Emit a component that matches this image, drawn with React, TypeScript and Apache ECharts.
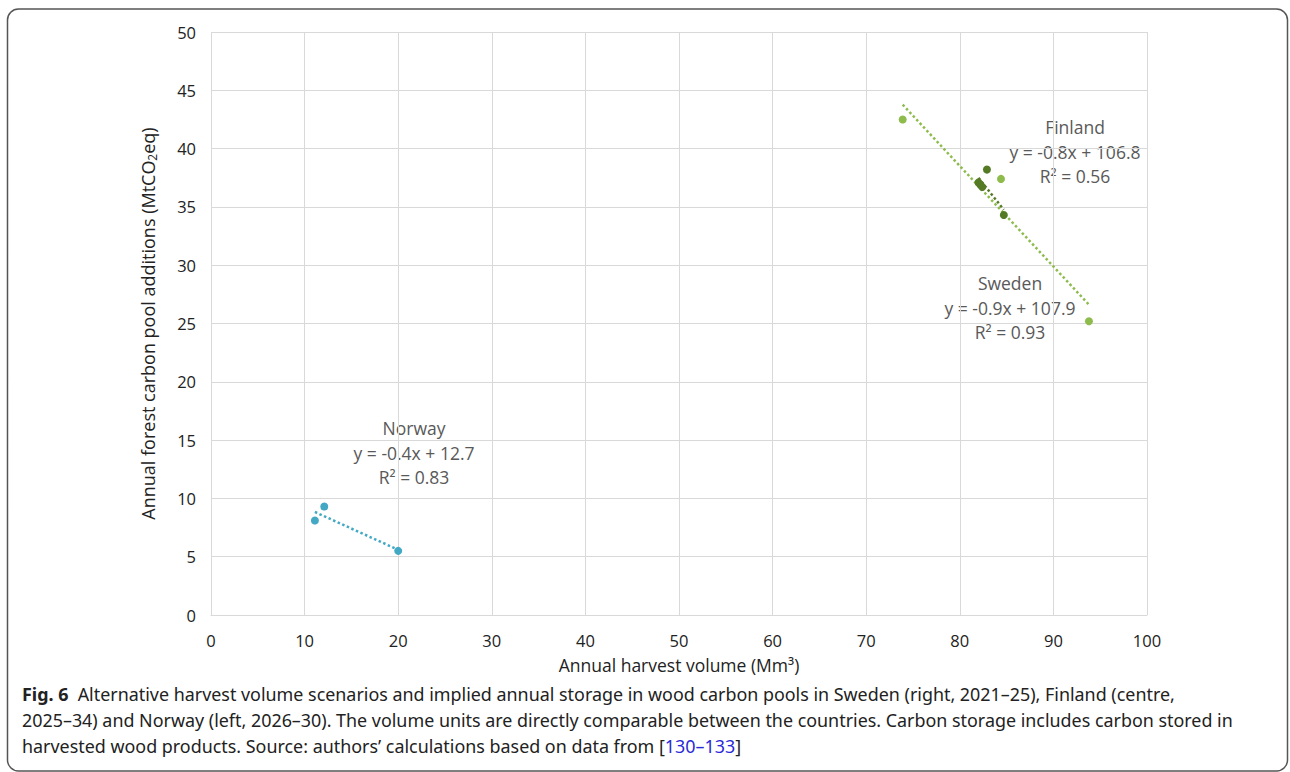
import React, { useEffect, useRef } from "react";
import * as echarts from "echarts";

const swedenX = [73.9, 84.4, 93.8];
const swedenY = [42.5, 37.4, 25.2];
const finlandX = [82.9, 82.0, 82.2, 82.4, 84.7];
const finlandY = [38.2, 37.1, 36.9, 36.7, 34.3];
const norwayX = [11.1, 12.1, 20.0];
const norwayY = [8.1, 9.3, 5.5];

const swedenLabel = ["Sweden", "y = -0.9x + 107.9", "R² = 0.93"];
const finlandLabel = ["Finland", "y = -0.8x + 106.8", "R² = 0.56"];
const norwayLabel = ["Norway", "y = -0.4x + 12.7", "R² = 0.83"];

const captionLines = [
  "Alternative harvest volume scenarios and implied annual storage in wood carbon pools in Sweden (right, 2021–25), Finland (centre,",
  "2025–34) and Norway (left, 2026–30). The volume units are directly comparable between the countries. Carbon storage includes carbon stored in",
  "harvested wood products. Source: authors’ calculations based on data from [",
];

const C_SWE = "#8dbb4c";
const C_FIN = "#557a26";
const C_NOR = "#42a8c4";

function fit(xs: number[], ys: number[]) {
  const n = xs.length;
  const mx = xs.reduce((a, b) => a + b, 0) / n;
  const my = ys.reduce((a, b) => a + b, 0) / n;
  let sxy = 0, sxx = 0;
  for (let i = 0; i < n; i++) {
    sxy += (xs[i] - mx) * (ys[i] - my);
    sxx += (xs[i] - mx) ** 2;
  }
  const b = sxy / sxx;
  const a = my - b * mx;
  const x0 = Math.min(...xs), x1 = Math.max(...xs);
  return [[x0, a + b * x0], [x1, a + b * x1]];
}

const zip = (xs: number[], ys: number[]) => xs.map((x, i) => [x, ys[i]]);

export default function App() {
  const ref = useRef<HTMLDivElement>(null);
  useEffect(() => {
    const chart = echarts.init(ref.current!, null, { renderer: "svg" });
    const font = "Open Sans";
    const annText = (lines: string[], cx: number, y0: number) =>
      lines.map((t, i) => ({
        type: "text",
        x: cx,
        y: y0 + i * 24.5,
        style: { text: t, fill: "#595959", font: `17.5px "${font}"`, textAlign: "center", textVerticalAlign: "middle" },
      }));
    const trend = (xs: number[], ys: number[], color: string) => ({
      type: "line",
      data: fit(xs, ys),
      symbol: "none",
      lineStyle: { type: [2.5, 2.5], width: 2.5, color },
      z: 2,
    });
    const scatter = (xs: number[], ys: number[], color: string) => ({
      type: "scatter",
      data: zip(xs, ys),
      symbolSize: 8,
      itemStyle: { color, opacity: 1 },
      z: 3,
    });
    const capFont = `17.9px "Noto Sans"`;
    chart.setOption({
      animation: false,
      textStyle: { fontFamily: font },
      grid: { left: 211, right: 143, top: 32, bottom: 157 },
      xAxis: {
        type: "value",
        min: 0,
        max: 100,
        interval: 10,
        name: "Annual harvest volume (Mm³)",
        nameLocation: "middle",
        nameGap: 41,
        nameTextStyle: { fontSize: 17.5, color: "#222", fontFamily: font },
        axisLine: { show: true, lineStyle: { color: "#d9d9d9" } },
        axisTick: { show: false },
        axisLabel: { fontSize: 16.5, color: "#222", margin: 17, fontFamily: font },
        splitLine: { show: true, lineStyle: { color: "#d9d9d9" } },
      },
      yAxis: {
        type: "value",
        min: 0,
        max: 50,
        interval: 5,
        name: "{n|Annual forest carbon pool additions (MtCO}{s|2}{n|eq)}",
        nameLocation: "middle",
        nameGap: 53,
        nameTextStyle: {
          rich: {
            n: { fontSize: 18, color: "#222", fontFamily: font },
            s: { fontSize: 12, color: "#222", fontFamily: font, padding: [9, 0, 0, 0] },
          },
        },
        axisLine: { show: false },
        axisTick: { show: false },
        axisLabel: { fontSize: 16.5, color: "#222", margin: 15, fontFamily: font },
        splitLine: { show: true, lineStyle: { color: "#d9d9d9" } },
      },
      series: [
        trend(swedenX, swedenY, C_SWE),
        trend(finlandX, finlandY, C_FIN),
        trend(norwayX, norwayY, C_NOR),
        scatter(swedenX, swedenY, C_SWE),
        scatter(finlandX, finlandY, C_FIN),
        scatter(norwayX, norwayY, C_NOR),
      ],
      graphic: [
        {
          type: "rect",
          shape: { x: 7.5, y: 9, width: 1280, height: 762, r: 11 },
          style: { fill: "none", stroke: "#555", lineWidth: 1.5 },
          silent: true,
        },
        ...annText(finlandLabel, 1075, 127),
        ...annText(swedenLabel, 1010, 283),
        ...annText(norwayLabel, 414, 428),
        {
          type: "text",
          x: 22,
          y: 694,
          style: {
            text: "{b|Fig. 6}  " + captionLines[0],
            font: capFont,
            fill: "#222",
            textVerticalAlign: "middle",
            rich: { b: { fontWeight: "bold", fontFamily: "Noto Sans", fontSize: 17.9, fill: "#222" } },
          },
        },
        {
          type: "text",
          x: 22,
          y: 720,
          style: { text: captionLines[1], font: capFont, fill: "#222", textVerticalAlign: "middle" },
        },
        {
          type: "text",
          x: 22,
          y: 746,
          style: {
            text: captionLines[2] + "{l|130–133}]",
            font: capFont,
            fill: "#222",
            textVerticalAlign: "middle",
            rich: { l: { fill: "#2a2ad8", fontFamily: "Noto Sans", fontSize: 17.9 } },
          },
        },
      ],
    });
    return () => chart.dispose();
  }, []);
  return <div ref={ref} style={{ position: "absolute", left: 0, top: 0, width: 1290, height: 772 }} />;
}
